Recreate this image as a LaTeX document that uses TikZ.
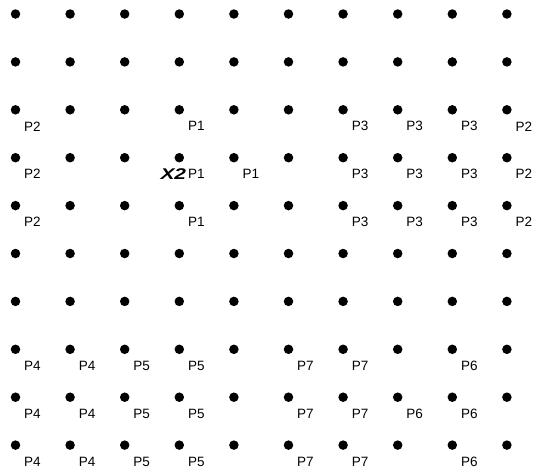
\documentclass[tikz,border=0pt]{standalone}
\usepackage{fontspec}
\setmainfont{Liberation Sans}
\begin{document}
\begin{tikzpicture}[x=1pt,y=-1pt,
  dot/.style={circle,fill=black,inner sep=0pt,minimum size=9.5pt},
  lbl/.style={anchor=west,inner sep=0pt,font=\fontsize{13.5}{15}\selectfont}]
\useasboundingbox (0,0) rectangle (538,475);
\foreach \i in {0,...,9}
  \foreach \j in {0,...,9}
    \node[dot] (d-\i-\j) at ({15.5+54.6*\i},{14+47.9*\j}) {};
\foreach \i/\j/\t in {0/2/P2,3/2/P1,6/2/P3,7/2/P3,8/2/P3,9/2/P2,
  0/3/P2,3/3/P1,4/3/P1,6/3/P3,7/3/P3,8/3/P3,9/3/P2,
  0/4/P2,3/4/P1,6/4/P3,7/4/P3,8/4/P3,9/4/P2,
  0/7/P4,1/7/P4,2/7/P5,3/7/P5,5/7/P7,6/7/P7,8/7/P6,
  0/8/P4,1/8/P4,2/8/P5,3/8/P5,5/8/P7,6/8/P7,7/8/P6,8/8/P6,
  0/9/P4,1/9/P4,2/9/P5,3/9/P5,5/9/P7,6/9/P7,8/9/P6}
  \node[lbl] (l-\i-\j) at ([shift={(8.5,16.5)}]d-\i-\j.center) {\t};
\node[lbl,anchor=east,font=\fontsize{15.5}{17}\selectfont\bfseries\itshape] (x2)
  at ([shift={(-1.5,0)}]l-3-3.west) {\scalebox{1.35}[1]{X2}};
\end{tikzpicture}
\end{document}
